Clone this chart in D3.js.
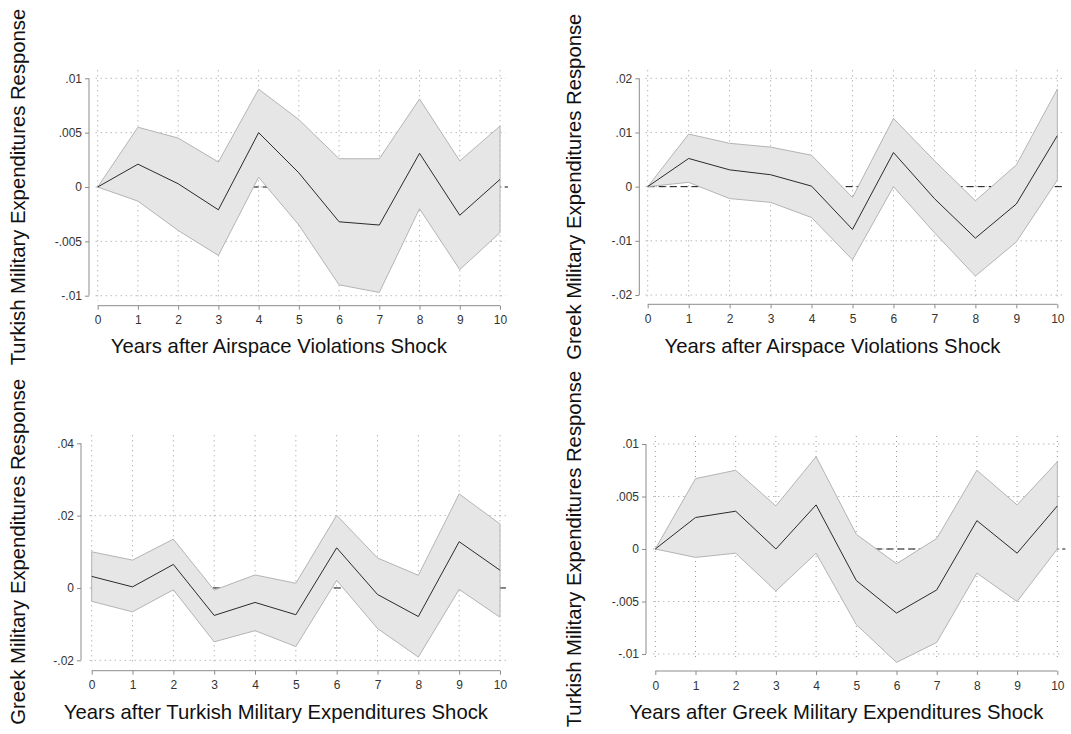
<!DOCTYPE html>
<html>
<head>
<meta charset="utf-8">
<script src="https://cdn.jsdelivr.net/npm/d3@7"></script>
<style>
  html, body { margin: 0; padding: 0; background: #fff; }
  svg { display: block; font-family: "Liberation Sans", Arial, sans-serif; }
</style>
</head>
<body>
<svg id="chart" width="1071" height="734"></svg>
<script>
// Horizon (years after shock)
const years = [0, 1, 2, 3, 4, 5, 6, 7, 8, 9, 10];

// Turkish military expenditures response to an airspace violations shock
const turAirIrf   = [0, 0.0021, 0.0003, -0.0021, 0.0050, 0.0013, -0.0032, -0.0035, 0.0031, -0.0026, 0.0007];
const turAirUpper = [0, 0.0055, 0.0045, 0.0023, 0.0090, 0.0062, 0.0026, 0.0026, 0.0081, 0.0024, 0.0056];
const turAirLower = [0, -0.0013, -0.0040, -0.0063, 0.0009, -0.0035, -0.0090, -0.0097, -0.0020, -0.0076, -0.0042];
const turAirTicks = [-0.01, -0.005, 0, 0.005, 0.01];

// Greek military expenditures response to an airspace violations shock
const grAirIrf   = [0, 0.0052, 0.0031, 0.0022, 0.0001, -0.0079, 0.0063, -0.0022, -0.0095, -0.0032, 0.0094];
const grAirUpper = [0, 0.0097, 0.0080, 0.0073, 0.0058, -0.0020, 0.0126, 0.0048, -0.0026, 0.0040, 0.0180];
const grAirLower = [0, 0.0008, -0.0022, -0.0029, -0.0057, -0.0135, 0.0000, -0.0085, -0.0165, -0.0102, 0.0012];
const grAirTicks = [-0.02, -0.01, 0, 0.01, 0.02];

// Greek military expenditures response to a Turkish military expenditures shock
const grTurIrf   = [0.0032, 0.0003, 0.0065, -0.0076, -0.0040, -0.0074, 0.0111, -0.0018, -0.0079, 0.0128, 0.0049];
const grTurUpper = [0.0100, 0.0077, 0.0135, -0.0006, 0.0036, 0.0013, 0.0201, 0.0083, 0.0035, 0.0260, 0.0177];
const grTurLower = [-0.0037, -0.0066, -0.0005, -0.0149, -0.0118, -0.0162, 0.0021, -0.0112, -0.0191, -0.0004, -0.0081];
const grTurTicks = [-0.02, 0, 0.02, 0.04];

// Turkish military expenditures response to a Greek military expenditures shock
const turGrIrf   = [0, 0.0030, 0.0036, 0.0000, 0.0042, -0.0030, -0.0061, -0.0039, 0.0027, -0.0004, 0.0041];
const turGrUpper = [0, 0.0067, 0.0075, 0.0041, 0.0088, 0.0014, -0.0014, 0.0010, 0.0075, 0.0042, 0.0083];
const turGrLower = [0, -0.0008, -0.0004, -0.0040, -0.0004, -0.0072, -0.0108, -0.0089, -0.0023, -0.0050, 0.0000];
const turGrTicks = [-0.01, -0.005, 0, 0.005, 0.01];

const svg = d3.select("#chart");

// Stata-style labels: drop the leading zero (".005", "-.01")
const fmtTick = v => (v === 0 ? "0" : String(+v.toFixed(4)).replace(/^(-?)0\./, "$1."));

function panel(cfg) {
  const g = svg.append("g");
  const x = d3.scaleLinear().domain([0, 10]).range([cfg.x0, cfg.x1]);
  const yTicks = cfg.ticks;
  const y = d3.scaleLinear().domain([d3.min(yTicks), d3.max(yTicks)]).range([cfg.yBot, cfg.yTop]);

  const top = cfg.yTop - 8, bottom = cfg.yBot + 5;

  // dotted grid
  const grid = g.append("g").attr("stroke", "#9a9a9a").attr("stroke-width", 1)
    .attr("stroke-dasharray", "1,4").attr("fill", "none");
  grid.selectAll("line.v").data(years).join("line")
    .attr("class", "v")
    .attr("x1", d => x(d)).attr("x2", d => x(d))
    .attr("y1", top).attr("y2", bottom);
  grid.selectAll("line.h").data(cfg.gridY).join("line")
    .attr("class", "h")
    .attr("x1", x(0) - 2).attr("x2", x(10) + 6)
    .attr("y1", d => y(d)).attr("y2", d => y(d));

  // zero reference line
  g.append("line")
    .attr("x1", x(0)).attr("x2", x(10) + 8)
    .attr("y1", y(0)).attr("y2", y(0))
    .attr("stroke", "#111").attr("stroke-width", 1)
    .attr("stroke-dasharray", "7,4");

  // confidence band
  const band = d3.area()
    .x((d, i) => x(years[i]))
    .y0((d, i) => y(cfg.lower[i]))
    .y1((d, i) => y(cfg.upper[i]));
  g.append("path").datum(cfg.irf)
    .attr("d", band)
    .attr("fill", "#e6e6e6")
    .attr("stroke", "#b4b4b4").attr("stroke-width", 1);

  // impulse response
  const line = d3.line().x((d, i) => x(years[i])).y(d => y(d));
  g.append("path").datum(cfg.irf)
    .attr("d", line)
    .attr("fill", "none")
    .attr("stroke", "#2a2a2a").attr("stroke-width", 1);

  // axes
  const yAxis = d3.axisLeft(y).tickValues(yTicks).tickFormat(fmtTick).tickSize(4).tickPadding(3);
  const ya = g.append("g").attr("transform", `translate(${cfg.yAxisX},0)`).call(yAxis);
  const xAxis = d3.axisBottom(x).tickValues(years).tickFormat(d3.format("d")).tickSize(4).tickPadding(6);
  const xa = g.append("g").attr("transform", `translate(0,${cfg.xAxisY})`).call(xAxis);
  [ya, xa].forEach(a => {
    a.select(".domain").attr("stroke", "#8c8c8c");
    a.selectAll(".tick line").attr("stroke", "#8c8c8c");
    a.selectAll(".tick text").attr("fill", "#333").attr("font-size", 12)
      .attr("font-family", "'Liberation Sans', Arial, sans-serif");
  });
  // axis lines span only the tick range
  ya.select(".domain").attr("d", `M0,${y(d3.max(yTicks))}V${y(d3.min(yTicks))}`);
  xa.select(".domain").attr("d", `M${x(0)},0H${x(10)}`);

  // titles
  g.append("text")
    .attr("x", (cfg.x0 + cfg.x1) / 2 - 20)
    .attr("y", cfg.xTitleY)
    .attr("text-anchor", "middle")
    .attr("font-size", 20.3)
    .attr("fill", "#111")
    .text(cfg.xTitle);
  g.append("text")
    .attr("transform", `translate(${cfg.yTitleX},${(cfg.yTop + cfg.yBot) / 2}) rotate(-90)`)
    .attr("text-anchor", "middle")
    .attr("font-size", 20.3)
    .attr("fill", "#111")
    .text(cfg.yTitle);
}

panel({
  irf: turAirIrf, upper: turAirUpper, lower: turAirLower, ticks: turAirTicks, gridY: turAirTicks,
  x0: 97.7, x1: 500, yTop: 78.3, yBot: 295.7, yAxisX: 89, xAxisY: 305.7,
  xTitle: "Years after Airspace Violations Shock", xTitleY: 353,
  yTitle: "Turkish Military Expenditures Response", yTitleX: 24.5
});
panel({
  irf: grAirIrf, upper: grAirUpper, lower: grAirLower, ticks: grAirTicks, gridY: grAirTicks,
  x0: 647.7, x1: 1057.3, yTop: 78.3, yBot: 295, yAxisX: 639.3, xAxisY: 304.3,
  xTitle: "Years after Airspace Violations Shock", xTitleY: 353,
  yTitle: "Greek Military Expenditures Response", yTitleX: 581
});
panel({
  irf: grTurIrf, upper: grTurUpper, lower: grTurLower, ticks: grTurTicks, gridY: [-0.02, 0, 0.02],
  x0: 91.7, x1: 500, yTop: 443.3, yBot: 660.3, yAxisX: 81, xAxisY: 670.7,
  xTitle: "Years after Turkish Military Expenditures Shock", xTitleY: 718.5,
  yTitle: "Greek Military Expenditures Response", yTitleX: 24.5
});
panel({
  irf: turGrIrf, upper: turGrUpper, lower: turGrLower, ticks: turGrTicks, gridY: turGrTicks,
  x0: 655.3, x1: 1057.3, yTop: 444, yBot: 654, yAxisX: 646, xAxisY: 671,
  xTitle: "Years after Greek Military Expenditures Shock", xTitleY: 718.5,
  yTitle: "Turkish Military Expenditures Response", yTitleX: 581
});
</script>
</body>
</html>
